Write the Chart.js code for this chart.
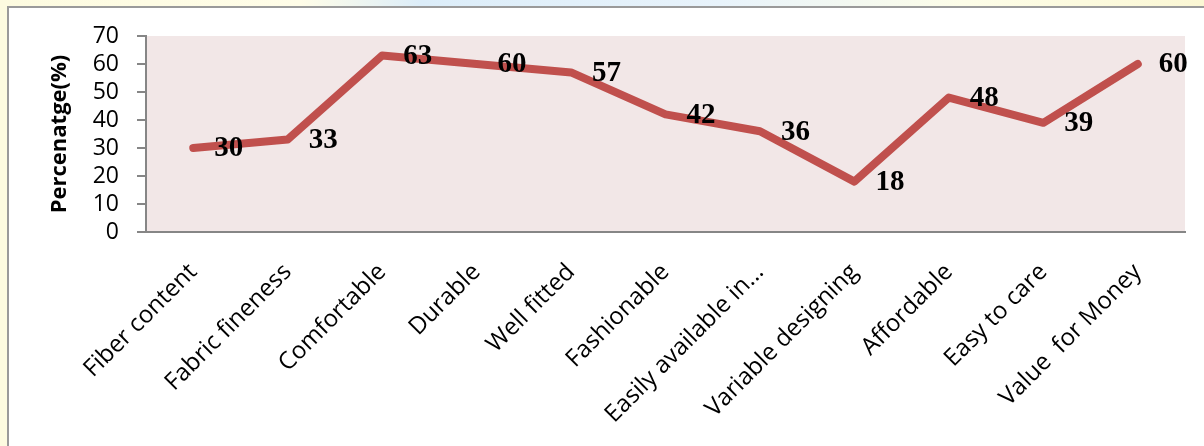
<!DOCTYPE html>
<html>
<head>
<meta charset="utf-8">
<script src="https://cdn.jsdelivr.net/npm/chart.js@4.4.1/dist/chart.umd.min.js"></script>
<style>
  html, body { margin: 0; padding: 0; }
  body {
    width: 1204px; height: 446px; overflow: hidden; position: relative;
    background: linear-gradient(90deg, #fdfbe0 0%, #fffde8 25%, #dcedf9 35%, #e8f3fb 60%, #fdfde8 80%, #fbf7d4 100%);
  }
  #frame {
    position: absolute; left: 7px; top: 6px; right: 0; bottom: 0;
    background: #ffffff;
    border-left: 2px solid #9a9a9a; border-top: 2px solid #9a9a9a;
  }
  #c { position: absolute; left: 0; top: 0; }
</style>
</head>
<body>
<div id="frame"></div>
<canvas id="c" width="1204" height="446"></canvas>
<script>
const categories = ["Fiber content", "Fabric fineness", "Comfortable", "Durable", "Well fitted",
  "Fashionable", "Easily available in...", "Variable designing", "Affordable", "Easy to care", "Value  for Money"];
const percentages = [30, 33, 63, 60, 57, 42, 36, 18, 48, 39, 60];
const yTicks = [0, 10, 20, 30, 40, 50, 60, 70];

const PLOT_LEFT = 146, PLOT_BOTTOM = 232, PAD_LEFT = 0;

const plotBg = {
  id: 'plotBg',
  beforeDraw(chart) {
    const {ctx, chartArea: a} = chart;
    ctx.save();
    ctx.fillStyle = '#f2e7e7';
    ctx.fillRect(a.left, a.top, a.right - a.left, a.bottom - a.top);
    ctx.restore();
  }
};

const dataLabels = {
  id: 'dataLabels',
  afterDatasetsDraw(chart) {
    const {ctx} = chart;
    const meta = chart.getDatasetMeta(0);
    ctx.save();
    ctx.font = 'bold 29px "Liberation Serif", "Times New Roman", serif';
    ctx.fillStyle = '#000000';
    ctx.textAlign = 'left';
    ctx.textBaseline = 'middle';
    meta.data.forEach((pt, i) => {
      ctx.fillText(String(percentages[i]), pt.x + 21, pt.y + 1);
    });
    ctx.restore();
  }
};

new Chart(document.getElementById('c'), {
  type: 'line',
  data: {
    labels: categories,
    datasets: [{
      data: percentages,
      borderColor: '#c0504d',
      borderWidth: 8,
      borderCapStyle: 'round',
      borderJoinStyle: 'round',
      pointRadius: 0,
      tension: 0,
      fill: false
    }]
  },
  options: {
    responsive: false,
    animation: false,
    plugins: { legend: { display: false }, tooltip: { enabled: false } },
    layout: { padding: { left: PAD_LEFT, top: 36, right: 19, bottom: 0 } },
    scales: {
      x: {
        offset: true,
        grid: { display: true, drawOnChartArea: false, drawTicks: false, color: '#868686' },
        border: { display: true, color: '#868686', width: 2 },
        ticks: {
          autoSkip: false, maxRotation: 45, minRotation: 45,
          color: '#000000', padding: 26,
          font: { family: '"Open Sans", sans-serif', size: 24 }
        },
        afterFit(scale) { scale.height = 446 - PLOT_BOTTOM; }
      },
      y: {
        min: 0, max: 70,
        afterBuildTicks(scale) { scale.ticks = yTicks.map(v => ({ value: v })); },
        grid: { display: true, drawOnChartArea: false, drawTicks: true, tickLength: 9, color: '#868686', lineWidth: 2 },
        border: { display: true, color: '#868686', width: 2 },
        ticks: {
          autoSkip: false,
          color: '#000000', padding: 18,
          font: { family: '"Open Sans", sans-serif', size: 23 }
        },
        title: {
          display: true, text: 'Percenatge(%)', color: '#000000',
          padding: { top: 47, bottom: 0 },
          font: { family: '"Open Sans", sans-serif', size: 22, weight: 'bold', lineHeight: 1.2 }
        },
        afterFit(scale) { scale.width = PLOT_LEFT - PAD_LEFT; }
      }
    }
  },
  plugins: [plotBg, dataLabels]
});
</script>
</body>
</html>
